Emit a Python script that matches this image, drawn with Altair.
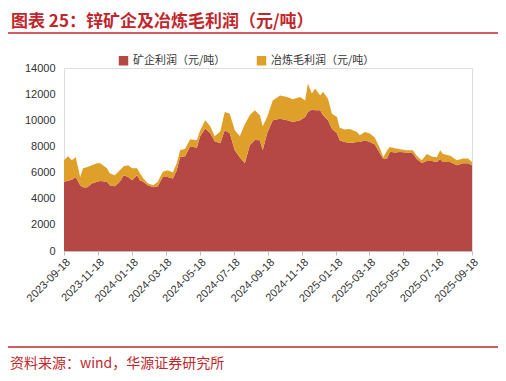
import altair as alt
import pandas as pd

dates = [
    "2023-09-18", "2023-09-25", "2023-10-02", "2023-10-09", "2023-10-17", "2023-10-22",
    "2023-10-29", "2023-11-07", "2023-11-16", "2023-11-22", "2023-12-04", "2023-12-09",
    "2023-12-18", "2023-12-27", "2024-01-03", "2024-01-11", "2024-01-18", "2024-01-27",
    "2024-02-01", "2024-02-07", "2024-02-15", "2024-02-25", "2024-03-04", "2024-03-13",
    "2024-03-22", "2024-03-31", "2024-04-07", "2024-04-13", "2024-04-22", "2024-05-01",
    "2024-05-13", "2024-05-19", "2024-05-28", "2024-06-06", "2024-06-14", "2024-06-24",
    "2024-07-02", "2024-07-11", "2024-07-20", "2024-07-29", "2024-08-07", "2024-08-16",
    "2024-08-25", "2024-09-03", "2024-09-08", "2024-09-16", "2024-09-26", "2024-10-09",
    "2024-10-22", "2024-11-01", "2024-11-14", "2024-11-23", "2024-11-28", "2024-12-05",
    "2024-12-11", "2024-12-20", "2024-12-25", "2025-01-03", "2025-01-10", "2025-01-19",
    "2025-01-24", "2025-02-02", "2025-02-11", "2025-02-24", "2025-03-01", "2025-03-10",
    "2025-03-19", "2025-03-28", "2025-04-06", "2025-04-12", "2025-04-19", "2025-04-24",
    "2025-05-03", "2025-05-12", "2025-05-24", "2025-06-04", "2025-06-11", "2025-06-20",
    "2025-06-29", "2025-07-08", "2025-07-17", "2025-07-23", "2025-07-28", "2025-08-10",
    "2025-08-22", "2025-09-02", "2025-09-11", "2025-09-18",
]

# top of the gold band (mine + smelter)
total_top = [
    6940, 7250, 6940, 7170, 5670, 6330,
    6400, 6560, 6710, 6710, 6330, 5950,
    5800, 6180, 6480, 6560, 6330, 6330,
    5950, 5570, 5190, 5036, 5290, 6060,
    6180, 6000, 6710, 7710, 7830, 8540,
    8470, 9230, 10000, 9540, 8770, 9150,
    10630, 10500, 9230, 8770, 9690, 10400,
    10760, 10380, 9540, 10250, 11520, 11900,
    11780, 11600, 11780, 11520, 12810, 12050,
    12430, 11900, 12180, 11650, 10500, 10250,
    9420, 9290, 9330, 9110, 8850, 9110,
    8980, 8660, 7860, 7170, 7710, 7960,
    7860, 7780, 7710, 7710, 7290, 6940,
    7420, 7220, 7170, 7710, 7420, 7290,
    6940, 7070, 7070, 6810,
]

mine_profit = [
    5290, 5380, 5450, 5670, 5036, 4880,
    4850, 5165, 5290, 5350, 5290, 5036,
    4960, 5290, 5800, 5670, 5420, 5800,
    5420, 5290, 5036, 4880, 4960, 5670,
    5670, 5540, 6180, 7170, 7250, 8010,
    7900, 8780, 9380, 9000, 8390, 8240,
    9230, 9000, 7710, 7170, 6710, 8100,
    8500, 8470, 7710, 9000, 10000, 10120,
    10000, 9870, 10000, 10250, 10630, 10820,
    10760, 10760, 10380, 10000, 9350, 9000,
    8470, 8330, 8270, 8330, 8330, 8470,
    8330, 8140, 7480, 7040, 7100, 7600,
    7540, 7580, 7540, 7480, 7040, 6730,
    6880, 6880, 6810, 7040, 6810, 6810,
    6560, 6710, 6710, 6560,
]

smelter_profit = [t - m for t, m in zip(total_top, mine_profit)]

series_names = ["矿企利润（元/吨）", "冶炼毛利润（元/吨）"]
series_colors = ["#B54744", "#DFA02A"]
x_ticks = [
    "2023-09-18", "2023-11-18", "2024-01-18", "2024-03-18", "2024-05-18", "2024-07-18",
    "2024-09-18", "2024-11-18", "2025-01-18", "2025-03-18", "2025-05-18", "2025-07-18",
    "2025-09-18",
]
y_ticks = [0, 2000, 4000, 6000, 8000, 10000, 12000, 14000]

title_text = "图表 25：锌矿企及冶炼毛利润（元/吨）"
source_text = "资料来源：wind，华源证券研究所"

rows = []
for d, m, s in zip(dates, mine_profit, smelter_profit):
    rows.append({"date": d, "series": series_names[0], "value": m, "ord": 0})
    rows.append({"date": d, "series": series_names[1], "value": s, "ord": 1})
df = pd.DataFrame(rows)

W, H = 408, 183
CJK = "Noto Sans CJK SC"

area = alt.Chart(df).mark_area(interpolate="linear").encode(
    x=alt.X("date:T",
            scale=alt.Scale(domain=[x_ticks[0], x_ticks[-1]], nice=False, padding=0),
            axis=alt.Axis(values=x_ticks, format="%Y-%m-%d", labelAngle=-45,
                          labelAlign="right", labelBaseline="top", labelFontSize=11,
                          labelFont="Liberation Sans", labelColor="#333333",
                          domainColor="#bfbfbf", tickColor="#bfbfbf", tickSize=4,
                          labelPadding=1, title=None, grid=False, labelOverlap=False)),
    y=alt.Y("value:Q", stack="zero",
            scale=alt.Scale(domain=[0, 14000], nice=False),
            axis=alt.Axis(values=y_ticks, format="d", labelFontSize=11,
                          labelFont="Liberation Sans",
                          labelColor="#333333", domain=False, ticks=False, grid=False,
                          labelPadding=9, title=None)),
    color=alt.Color("series:N",
                    scale=alt.Scale(domain=series_names, range=series_colors),
                    sort=series_names,
                    legend=alt.Legend(orient="none", legendX=54, legendY=-13,
                                      direction="horizontal", title=None,
                                      symbolType="square", symbolSize=90,
                                      symbolStrokeWidth=0, labelFont=CJK,
                                      labelFontSize=11, labelColor="#333333",
                                      columnPadding=30, labelLimit=300)),
    order=alt.Order("ord:Q"),
)

title = alt.Chart(pd.DataFrame({"t": [title_text]})).mark_text(
    align="left", baseline="middle", font=CJK, fontSize=17, fontWeight="bold",
    color="#C0272D"
).encode(x=alt.value(-53), y=alt.value(-46), text="t:N")

source = alt.Chart(pd.DataFrame({"t": [source_text]})).mark_text(
    align="left", baseline="middle", font=CJK, fontSize=14, color="#C0272D"
).encode(x=alt.value(-54), y=alt.value(296), text="t:N")

top_rule = alt.Chart(pd.DataFrame({"a": [0]})).mark_rule(
    color="#C0272D", strokeWidth=1.6
).encode(x=alt.value(-56), x2=alt.value(434), y=alt.value(-35))

bottom_rule = alt.Chart(pd.DataFrame({"a": [0]})).mark_rule(
    color="#C0272D", strokeWidth=1.6
).encode(x=alt.value(-56), x2=alt.value(434), y=alt.value(279))

chart = alt.layer(area, title, source, top_rule, bottom_rule).properties(
    width=W, height=H,
    autosize=alt.AutoSizeParams(type="none"),
    padding={"left": 56, "top": 60, "right": 26, "bottom": 122},
).configure_view(stroke=None).configure(background="white")

chart.save("out.html", embed_options={"renderer": "svg", "actions": False})
